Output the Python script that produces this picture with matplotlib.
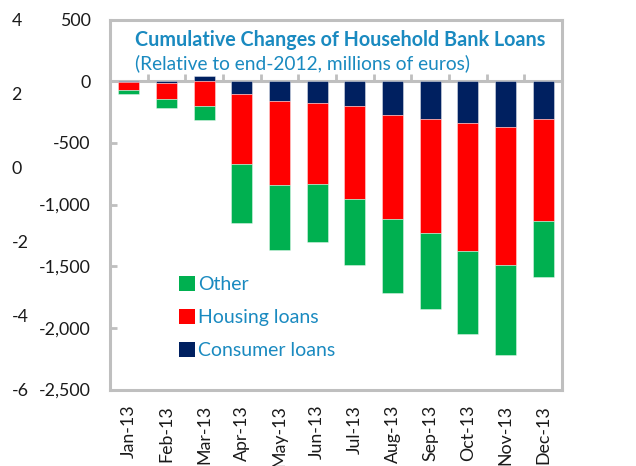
import matplotlib
matplotlib.use("Agg")
import matplotlib.pyplot as plt
import numpy as np
from matplotlib.patches import Patch

# Cumulative changes since end-2012, millions of euros
months = ["Jan-13", "Feb-13", "Mar-13", "Apr-13", "May-13", "Jun-13",
          "Jul-13", "Aug-13", "Sep-13", "Oct-13", "Nov-13", "Dec-13"]
consumer = [-3, -15, 40, -103, -162, -173, -203, -276, -303, -343, -373, -303]
housing = [-70, -131, -200, -570, -681, -660, -756, -843, -927, -1033, -1114, -830]
other = [-27, -71, -116, -473, -528, -470, -528, -598, -619, -670, -730, -457]

value_ticks = [500, 0, -500, -1000, -1500, -2000, -2500]
outer_ticks = [4, 2, 0, -2, -4, -6]

GREEN = "#00B050"
RED = "#FF0000"
NAVY = "#002060"
TEXT_BLUE = "#1A8AC0"
FRAME = "#BFBFBF"
FONT = "Lato"

plt.rcParams["font.family"] = [FONT, "DejaVu Sans"]

W, H = 636, 466
fig = plt.figure(figsize=(W / 100, H / 100), dpi=100)
left, right, top, bottom = 110, 562, 19.5, 389.5
ax = fig.add_axes([left / W, (H - bottom) / H, (right - left) / W, (bottom - top) / H])

x = np.arange(len(months))
cons = np.array(consumer, dtype=float)
hous = np.array(housing, dtype=float)
oth = np.array(other, dtype=float)

# negative parts stack downward from zero, positive parts sit above
base_h = np.minimum(cons, 0)
base_o = base_h + hous

bw = 0.55
edge = dict(edgecolor=(1, 1, 1, 0.45), linewidth=0.6)
ax.bar(x, cons, bw, color=NAVY, **edge, zorder=2)
ax.bar(x, hous, bw, bottom=base_h, color=RED, **edge, zorder=2)
ax.bar(x, oth, bw, bottom=base_o, color=GREEN, **edge, zorder=2)

ax.set_xlim(-0.5, len(months) - 0.5)
ax.set_ylim(-2500, 500)

for s in ax.spines.values():
    s.set_color(FRAME)
    s.set_linewidth(2.2)

ax.set_yticks(value_ticks)
ax.set_yticklabels([f"{v:,}" for v in value_ticks])
ax.tick_params(axis="y", which="both", left=True, right=True,
               labelleft=True, labelright=True, direction="in",
               length=5, width=2, color=FRAME, labelsize=12.8,
               labelcolor="#1a1a1a", pad=14)

ax.set_xticks(x)
ax.set_xticklabels(months, rotation=90, va="top", ha="center")
ax.tick_params(axis="x", length=0, labelsize=12.8, labelcolor="#1a1a1a", pad=11)

# category axis crossing at zero, with separator ticks between months
ymin, ymax = ax.get_ylim()
zero_pos = (0 - ymin) / (ymax - ymin)
sec = ax.secondary_xaxis(zero_pos)
sec.set_xticks(np.arange(0.5, len(months) - 0.5, 1.0))
sec.tick_params(axis="x", length=5, width=2, color=FRAME, labeltop=False,
                labelbottom=False)
for s in sec.spines.values():
    s.set_color(FRAME)
    s.set_linewidth(2.2)

# stray outer scale on the far left
ax3 = ax.twinx()
ax3.set_ylim(-5.87, 3.91)
ax3.yaxis.tick_left()
ax3.set_yticks(outer_ticks)
ax3.set_yticklabels([str(v) for v in outer_ticks], ha="left")
ax3.tick_params(axis="y", length=0, labelsize=12.8, labelcolor="#1a1a1a", pad=71)
for s in ax3.spines.values():
    s.set_visible(False)
ax3.patch.set_visible(False)

fig.text(135 / W, 1 - 40 / H, "Cumulative Changes of Household Bank Loans",
         color=TEXT_BLUE, fontsize=14.2, fontweight="bold", va="center", ha="left")
fig.text(135 / W, 1 - 63 / H, "(Relative to end-2012, millions of euros)",
         color=TEXT_BLUE, fontsize=13.8, va="center", ha="left")

handles = [Patch(facecolor=GREEN, label="Other"),
           Patch(facecolor=RED, label="Housing loans"),
           Patch(facecolor=NAVY, label="Consumer loans")]
leg = ax.legend(handles=handles, loc="upper left",
                bbox_to_anchor=(165 / W, 1 - 262 / H), bbox_transform=fig.transFigure,
                frameon=False, fontsize=14, labelcolor=TEXT_BLUE,
                handlelength=0.85, handleheight=0.85, handletextpad=0.15,
                labelspacing=0.8, borderpad=0.2)

fig.savefig("out.png", dpi=100)
